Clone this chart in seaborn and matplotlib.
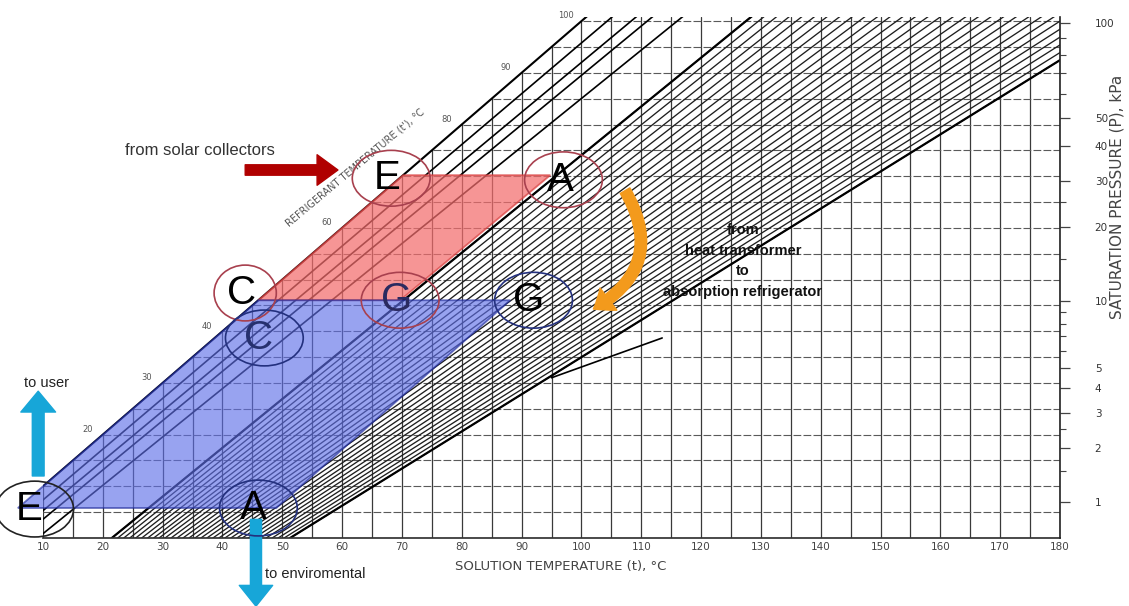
import pandas as pd
import seaborn as sns
import matplotlib.pyplot as plt
from matplotlib.patches import Ellipse

# ---- chart data: solution temperature t (x) vs refrigerant temperature t' (y), both degC ----
x_ticks = [10, 20, 30, 40, 50, 60, 70, 80, 90, 100, 110, 120, 130, 140, 150, 160, 170, 180]

# saturation pressure scale on the right (kPa) placed at water saturation temperature
pressure_labels = ['1', '2', '3', '4', '5', '10', '20', '30', '40', '50', '100']
pressure_temps = [7.0, 17.5, 24.1, 29.0, 32.9, 45.8, 60.1, 69.1, 75.9, 81.3, 99.6]
pressure_minor_temps = [13.0, 21.1, 36.2, 39.0, 41.5, 43.8, 54.0, 65.0, 85.9, 90.0, 93.5, 96.7]

# refrigerant temperature labels along the pure water line
refrig_labels = [20, 30, 40, 60, 80, 90, 100]

# concentration lines: solution temperature at t'=0 and at t'=100
water_low, water_high = 0.0, 100.0
sparse_low = [2.5, 4.5, 6.2, 9.1]
sparse_high = [104.3, 108.3, 111.0, 116.0]
dense_low = [21.5, 22.5, 23.5, 24.5, 25.5, 26.5, 27.5, 28.5, 29.4, 30.4, 31.4,
             32.4, 33.4, 34.4, 35.4, 36.4, 37.4, 38.4, 39.4, 40.4, 41.4, 42.4,
             43.3, 44.3, 45.3, 46.3, 47.3, 48.3, 49.3, 50.3, 51.3]
dense_high = [127.5, 129.6, 131.7, 133.8, 135.9, 138.0, 140.1, 142.2, 144.3, 146.4,
              148.5, 150.6, 152.7, 154.8, 156.9, 159.0, 161.1, 163.2, 165.3, 167.4,
              169.5, 171.6, 173.7, 175.8, 177.9, 180.0, 182.1, 184.2, 186.3, 188.4, 190.5]
crystal_t = [95.0, 113.5]
crystal_tp = [31.0, 38.7]

# heat transformer cycle (C, E, A, G) and absorption refrigerator cycle (E, C, G, A)
ht_t = [46.0, 70.2, 94.8, 69.7]
ht_tp = [46.0, 70.2, 70.2, 46.0]
ar_t = [5.8, 46.0, 88.1, 49.0]
ar_tp = [5.8, 46.0, 46.0, 5.8]

# state point labels: letter, centre t, centre t'
ht_names = ['C', 'E', 'A', 'G']
ht_lab_t = [43.8, 68.2, 97.0, 69.7]
ht_lab_tp = [47.4, 69.6, 69.3, 46.0]
ar_names = ['E', 'C', 'G', 'A']
ar_lab_t = [8.6, 47.0, 92.0, 46.0]
ar_lab_tp = [5.6, 38.7, 46.0, 5.8]

T_TOP = 100.8


def line_frame(lows, highs, tag):
    rows = []
    for i, (lo, hi) in enumerate(zip(lows, highs)):
        rows.append({'line': f'{tag}{i}', 't': lo, 'tp': 0.0})
        rows.append({'line': f'{tag}{i}', 't': lo + (hi - lo) * 1.02, 'tp': 102.0})
    return pd.DataFrame(rows)


sns.set_theme(style='white')
plt.rcParams['font.family'] = ['Liberation Sans', 'DejaVu Sans']

fig = plt.figure(figsize=(11.29, 6.06), dpi=100)
ax = fig.add_axes([43 / 1129, 68 / 606, 1017 / 1129, 521 / 606])
ax.set_xlim(10, 180)
ax.set_ylim(0, T_TOP)

# pressure axis on the right (made first so it does not reset the left ticks later)
ax2 = ax.twinx()
ax2.set_ylim(0, T_TOP)
ax2.set_yticks(pressure_temps, labels=pressure_labels)
ax2.set_yticks(pressure_minor_temps, minor=True)
ax2.tick_params(axis='y', which='major', right=True, left=False, direction='out', length=7,
                width=0.9, color='#444444', pad=18, labelsize=7.5, labelcolor='#333333')
ax2.tick_params(axis='y', which='minor', right=True, left=False, direction='out', length=4,
                width=0.8, color='#444444')
for lab in ax2.get_yticklabels():
    lab.set_family('DejaVu Sans')
ax2.grid(False)
for s in ['left', 'top', 'bottom']:
    ax2.spines[s].set_visible(False)
ax2.spines['right'].set_color('#222222')
ax2.spines['right'].set_linewidth(1.2)

# grid
ax.set_xticks(x_ticks)
ax.set_xticks([v + 5 for v in x_ticks[:-1]], minor=True)
ax.set_yticks(list(range(0, 101, 5)))
ax.xaxis.grid(True, which='both', color='#3a3a3a', lw=0.9)
ax.yaxis.grid(True, color='#5a5a5a', lw=0.8, linestyle=(0, (7, 2)))
ax.set_axisbelow(True)
ax.tick_params(axis='x', which='both', length=0, pad=3, labelsize=7.5, labelcolor='#444444')
ax.tick_params(axis='y', which='both', left=False, right=False, labelleft=False,
               labelright=False, length=0)
for lab in ax.get_xticklabels():
    lab.set_family('DejaVu Sans')
for s in ['left', 'top', 'right']:
    ax.spines[s].set_visible(False)
ax.spines['bottom'].set_color('#333333')

# blank out the region above the pure water line
ax.fill([10, T_TOP, 10], [10, T_TOP, T_TOP], color='white', zorder=1, lw=0)

# concentration lines
sns.lineplot(data=line_frame([water_low], [water_high], 'w'), x='t', y='tp', units='line',
             estimator=None, sort=False, color='black', lw=1.5, ax=ax, legend=False, zorder=2)
sns.lineplot(data=line_frame(sparse_low, sparse_high, 's'), x='t', y='tp', units='line',
             estimator=None, sort=False, color='black', lw=1.2, ax=ax, legend=False, zorder=2)
sns.lineplot(data=line_frame(dense_low, dense_high, 'd'), x='t', y='tp', units='line',
             estimator=None, sort=False, color='#1e1e1e', lw=0.95, ax=ax, legend=False, zorder=2)
sns.lineplot(data=line_frame([dense_low[0], dense_low[-1]], [dense_high[0], dense_high[-1]], 'b'),
             x='t', y='tp', units='line', estimator=None, sort=False, color='black', lw=1.6,
             ax=ax, legend=False, zorder=2)
ax.plot(crystal_t, crystal_tp, color='black', lw=1.2, zorder=2)
ax.set_xlabel('')
ax.set_ylabel('')

# cycles
ax.fill(ht_t, ht_tp, facecolor='#f36d6d', alpha=0.72, edgecolor='#d94040', lw=1.3, zorder=3)
ax.fill(ar_t, ar_tp, facecolor='#5f6fe8', alpha=0.64, edgecolor='#1e2a9a', lw=1.3, zorder=3,
        clip_on=False)

ring_w = 13.0
ring_h = 10.8
for name, t, tp in zip(ht_names, ht_lab_t, ht_lab_tp):
    w = 10.4 if name == 'C' else ring_w
    ax.add_patch(Ellipse((t, tp), w, ring_h, fill=False, ec='#a8404e', lw=1.2, zorder=4,
                         clip_on=False))
    col = '#2a2a60' if name == 'G' else 'black'
    ax.text(t - 0.6, tp, name, fontsize=29, color=col, ha='center', va='center', zorder=5)
for name, t, tp in zip(ar_names, ar_lab_t, ar_lab_tp):
    ec = '#222222' if name == 'E' else '#23307e'
    ax.add_patch(Ellipse((t, tp), ring_w, ring_h, fill=False, ec=ec, lw=1.2, zorder=4,
                         clip_on=False))
    col = '#26306e' if name == 'C' else 'black'
    ax.text(t - 0.9, tp, name, fontsize=29, color=col, ha='center', va='center', zorder=5)

# axis titles
ax.text(96.5, -5.6, 'SOLUTION TEMPERATURE (t), \u00b0C', ha='center', va='center',
        fontsize=9.5, color='#444444', family='DejaVu Sans')
ax.text(189.6, 66.0, 'SATURATION PRESSURE (P), kPa', ha='center', va='center',
        rotation=90, fontsize=11, color='#444444', family='DejaVu Sans')
ax.text(62.2, 71.6, "REFRIGERANT TEMPERATURE (t'), \u00b0C", ha='center', va='center',
        rotation=40, fontsize=7, color='#555555', zorder=3, family='DejaVu Sans')
for v in refrig_labels:
    ax.text(v - 2.6, v + 1.0, str(v), fontsize=6, color='#555555', ha='center',
            va='center', zorder=3, clip_on=False, family='DejaVu Sans')

# flow annotations
ax.text(23.7, 75.0, 'from solar collectors', fontsize=12, color='#333333', ha='left', va='center')
ax.annotate('', xy=(59.3, 71.2), xytext=(43.8, 71.2), annotation_clip=False,
            arrowprops=dict(arrowstyle='simple,head_length=1.5,head_width=2.2,tail_width=0.75',
                            mutation_scale=10, color='#b00000', shrinkA=0, shrinkB=0))
ax.text(10.6, 30.0, 'to user', fontsize=10.5, color='#222222', ha='center', va='center')
ax.annotate('', xy=(9.2, 28.4), xytext=(9.2, 12.0), annotation_clip=False,
            arrowprops=dict(arrowstyle='simple,head_length=1.5,head_width=2.5,tail_width=0.85',
                            mutation_scale=10, color='#17a6d8', shrinkA=0, shrinkB=0))
ax.text(47.1, -6.9, 'to enviromental', fontsize=10.5, color='#222222', ha='left', va='center')
ax.annotate('', xy=(45.6, -13.2), xytext=(45.6, 3.6), annotation_clip=False,
            arrowprops=dict(arrowstyle='simple,head_length=1.5,head_width=2.4,tail_width=0.8',
                            mutation_scale=10, color='#17a6d8', shrinkA=0, shrinkB=0))
ax.annotate('', xy=(102.0, 44.3), xytext=(107.3, 67.2), annotation_clip=False,
            arrowprops=dict(arrowstyle='simple,head_length=1.3,head_width=2.0,tail_width=0.8',
                            mutation_scale=10, color='#f39a1c', shrinkA=0, shrinkB=0,
                            connectionstyle='arc3,rad=-0.5'))
ax.text(127.0, 53.6, 'from\nheat transformer\nto\nabsorption refrigerator', fontsize=10.5,
        fontweight='bold', color='#111111', ha='center', va='center', linespacing=1.6,
        zorder=6)

fig.savefig('out.png', dpi=100, facecolor='white')
